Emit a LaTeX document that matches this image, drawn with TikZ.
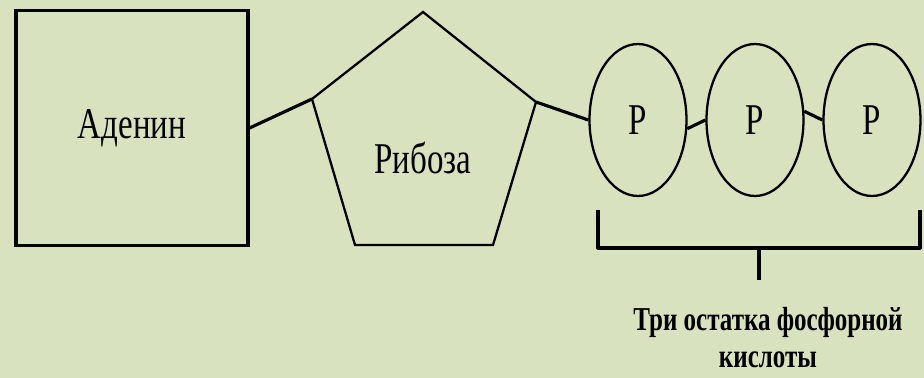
\documentclass[tikz,border=0pt]{standalone}
\usepackage{fontspec}
\setmainfont{Liberation Serif}[FakeStretch=0.75]
\usepackage{tikz}
\usetikzlibrary{shapes.geometric}
\definecolor{bgreen}{RGB}{217,226,190}

\tikzset{
  box/.style={draw, line width=1.8pt, minimum width=4.64cm, minimum height=4.7cm},
  phos/.style={draw, ellipse, line width=1.3pt, minimum width=1.94cm, minimum height=3.04cm},
  bond/.style={line width=1.8pt},
  bigtxt/.style={font=\fontsize{25}{30}\selectfont}
}

\begin{document}
\begin{tikzpicture}[x=0.02cm, y=-0.02cm]
  % pixel grid 924 x 378, y runs downwards
  \fill[bgreen] (0,0) rectangle (924,378);
  \useasboundingbox (0,0) rectangle (924,378);

  % adenine
  \node[box, bigtxt] (aden) at (132,128) {Аденин};

  % ribose, a slightly stretched pentagon
  \coordinate (rt) at (423,12);
  \coordinate (rl) at (312,99);
  \coordinate (rr) at (536,102);
  \coordinate (rbl) at (355,245);
  \coordinate (rbr) at (493,245);
  \draw[line width=1.3pt, line join=miter] (rt) -- (rr) -- (rbr) -- (rbl) -- (rl) -- cycle;
  \node[bigtxt] (rib) at (423,158) {Рибоза};

  % phosphate groups
  \foreach \n/\x in {p1/638, p2/755, p3/872}
    { \node[phos, bigtxt] (\n) at (\x,120) {Р}; }

  % bonds
  \draw[bond] (aden.east) -- (rl);
  \draw[bond] (rr) -- (p1.west);
  \draw[bond] (p1.-10) -- (p2.west);
  \draw[bond] (p2.10) -- (p3.west);

  % brace under the phosphates
  \coordinate (bl) at (598,210);
  \coordinate (br) at (920,210);
  \coordinate (bm) at (759,248);
  \coordinate (btip) at (759,280);
  \draw[bond, line join=round] (bl) |- (bm) -| (br);
  \draw[line width=2pt] (bm) -- (btip);

  \node[font=\bfseries\fontsize{19}{21}\selectfont, align=center, inner sep=0pt] (lbl) at (768,338)
    {Три остатка фосфорной\\кислоты};
\end{tikzpicture}
\end{document}
